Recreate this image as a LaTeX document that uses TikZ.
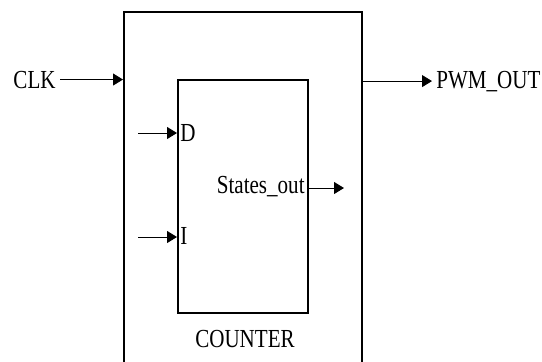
\documentclass[tikz,border=0pt]{standalone}
\usepackage{fontspec}
\setmainfont{Liberation Serif}[FakeStretch=0.81]
\usetikzlibrary{arrows.meta}
\tikzset{
  blk/.style={draw,line width=1pt,inner sep=0pt},
  sig/.style={-{Triangle[length=5pt,width=6pt]},line width=0.5pt},
  pin/.style={inner sep=2pt}
}
\begin{document}
\begin{tikzpicture}[x=0.5pt,y=-0.5pt,font=\fontsize{13}{15}\selectfont]
\useasboundingbox (0,0) rectangle (542,361);
\node[blk,minimum width=119pt,minimum height=184pt] (top) at (243,196) {};
\node[blk,minimum width=65pt,minimum height=116.5pt] (cnt) at (243,196.5) {};
\node[anchor=base,inner sep=0pt] (cntname) at (245,347) {COUNTER};
\node[pin,anchor=base east] (clk) at (60,88) {CLK};
\node[pin,anchor=base west] (pwm) at (432,88) {PWM\_OUT};
\node[pin,anchor=base west,inner sep=1pt] (d) at (178,141) {D};
\node[pin,anchor=base west,inner sep=1pt] (i) at (178,244) {I};
\node[pin,anchor=base east,inner sep=1pt] (st) at (307,193) {States\_out};
\coordinate (din) at (138,133);
\coordinate (iin) at (138,237);
\coordinate (sout) at (344,188);
\draw[sig] (clk) -- (clk -| top.west);
\draw[sig] (top.east |- pwm) -- (pwm);
\draw[sig] (din) -- (din -| cnt.west);
\draw[sig] (iin) -- (iin -| cnt.west);
\draw[sig] (sout -| cnt.east) -- (sout);
\end{tikzpicture}
\end{document}
